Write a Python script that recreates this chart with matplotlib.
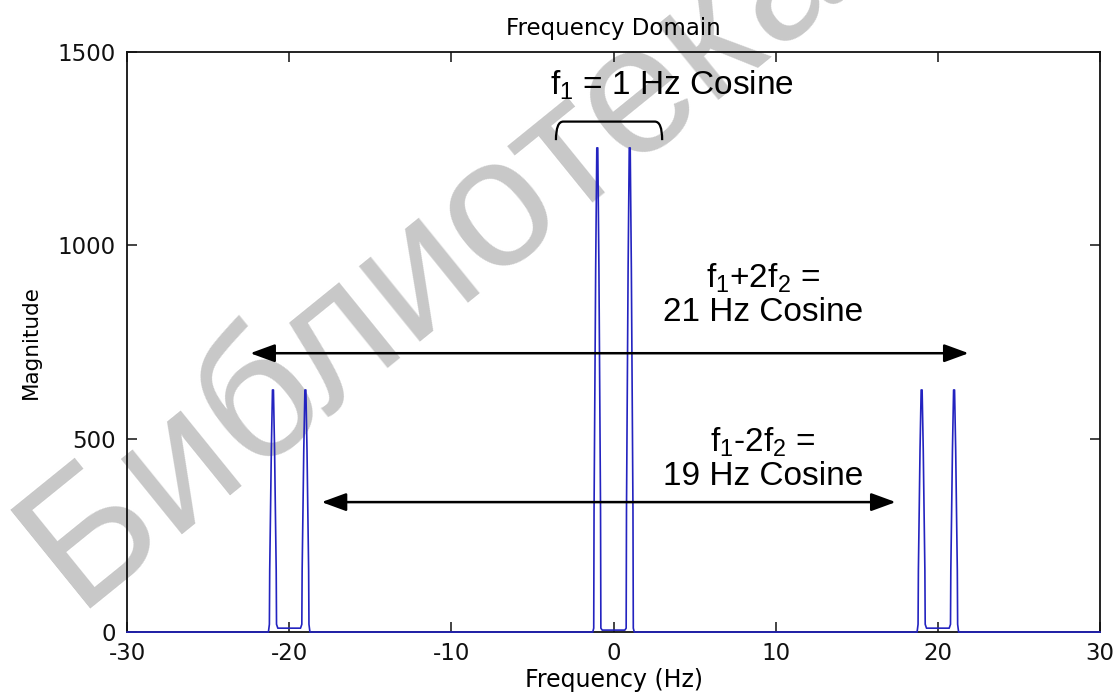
import matplotlib
matplotlib.use("Agg")
import matplotlib.pyplot as plt
from matplotlib.path import Path
from matplotlib.patches import PathPatch

plt.rcParams["axes.unicode_minus"] = False

LINE = "#2323c0"
WATERMARK = "#c8c8c8"

# spectrum samples around each pair of cosine lines (Hz, magnitude)
left_hz = [-21.28, -21.22, -21.20, -21.15, -21.10, -21.03, -20.97, -20.90, -20.85, -20.80, -20.78, -20.70,
           -19.30, -19.22, -19.20, -19.15, -19.10, -19.03, -18.97, -18.90, -18.85, -18.80, -18.78, -18.72]
left_mag = [0, 20, 160, 313, 470, 626, 626, 470, 313, 160, 20, 10,
            10, 20, 160, 313, 470, 626, 626, 470, 313, 160, 20, 0]

centre_hz = [-1.28, -1.22, -1.20, -1.15, -1.10, -1.03, -0.97, -0.90, -0.85, -0.80, -0.78, -0.70,
             0.70, 0.78, 0.80, 0.85, 0.90, 0.97, 1.03, 1.10, 1.15, 1.20, 1.22, 1.28]
centre_mag = [0, 10, 313, 626, 940, 1252, 1252, 940, 626, 313, 10, 5,
              5, 10, 313, 626, 940, 1252, 1252, 940, 626, 313, 10, 0]

right_hz = [18.72, 18.78, 18.80, 18.85, 18.90, 18.97, 19.03, 19.10, 19.15, 19.20, 19.22, 19.30,
            20.70, 20.78, 20.80, 20.85, 20.90, 20.97, 21.03, 21.10, 21.15, 21.20, 21.22, 21.28]
right_mag = [0, 20, 160, 313, 470, 626, 626, 470, 313, 160, 20, 10,
             10, 20, 160, 313, 470, 626, 626, 470, 313, 160, 20, 0]

span_hz = [-30, 30]
x_ticks = [-30, -20, -10, 0, 10, 20, 30]
y_ticks = [0, 500, 1000, 1500]

freq = [span_hz[0]] + left_hz + centre_hz + right_hz + [span_hz[1]]
mag = [0] + left_mag + centre_mag + right_mag + [0]

fig = plt.figure(figsize=(11.17, 6.95), dpi=100)
fig.patch.set_facecolor("white")
ax = fig.add_axes([0.1137, 0.0906, 0.8711, 0.8346])
ax.set_facecolor("none")

fig.text(0.068, 0.125, "Библиотека", rotation=39, rotation_mode="anchor",
         ha="left", va="baseline", fontsize=132, color=WATERMARK,
         family="Liberation Sans", zorder=-5)

ax.plot(freq, mag, color=LINE, lw=1.2, clip_on=False, zorder=3)

ax.set_xlim(-30, 30)
ax.set_ylim(0, 1500)
ax.set_xticks(x_ticks)
ax.set_yticks(y_ticks)
for s in ax.spines.values():
    s.set_linewidth(1.3)
    s.set_color("#111111")
ax.tick_params(direction="in", length=7, width=1.1, top=True, right=True,
               labelsize=16.5, colors="#111111")
ax.tick_params(axis="x", pad=7)
ax.tick_params(axis="y", pad=8)
ax.set_title("Frequency Domain", fontsize=16.5, pad=12)
ax.set_xlabel("Frequency (Hz)", fontsize=17, labelpad=2)
ax.set_ylabel("Magnitude", fontsize=15.5, labelpad=12)

# annotations for the three cosine components
ann = dict(family="Liberation Sans", fontsize=24, ha="center", va="center", color="black")
ax.text(3.6, 1414, r"$\mathregular{f_1}$ = 1 Hz Cosine", **ann)
ax.text(9.2, 915, r"$\mathregular{f_1}$+2$\mathregular{f_2}$ =", **ann)
ax.text(9.2, 827, "21 Hz Cosine", **ann)
ax.text(9.2, 491, r"$\mathregular{f_1}$-2$\mathregular{f_2}$ =", **ann)
ax.text(9.2, 403, "19 Hz Cosine", **ann)

arrow = dict(arrowstyle="<|-|>,head_length=0.6,head_width=0.22", color="black",
             lw=1.8, mutation_scale=25, shrinkA=0, shrinkB=0)
ax.annotate("", xy=(-22.4, 721), xytext=(21.9, 721), arrowprops=arrow)
ax.annotate("", xy=(-18.0, 336), xytext=(17.4, 336), arrowprops=arrow)

# bracket over the 1 Hz pair
verts = [(-3.55, 1272), (-3.55, 1320), (-3.1, 1320), (2.55, 1320),
         (3.0, 1320), (3.0, 1272)]
codes = [Path.MOVETO, Path.CURVE3, Path.CURVE3, Path.LINETO, Path.CURVE3, Path.CURVE3]
ax.add_patch(PathPatch(Path(verts, codes), fill=False, lw=1.6, color="black"))

fig.savefig("out.png", dpi=100, facecolor="white")
